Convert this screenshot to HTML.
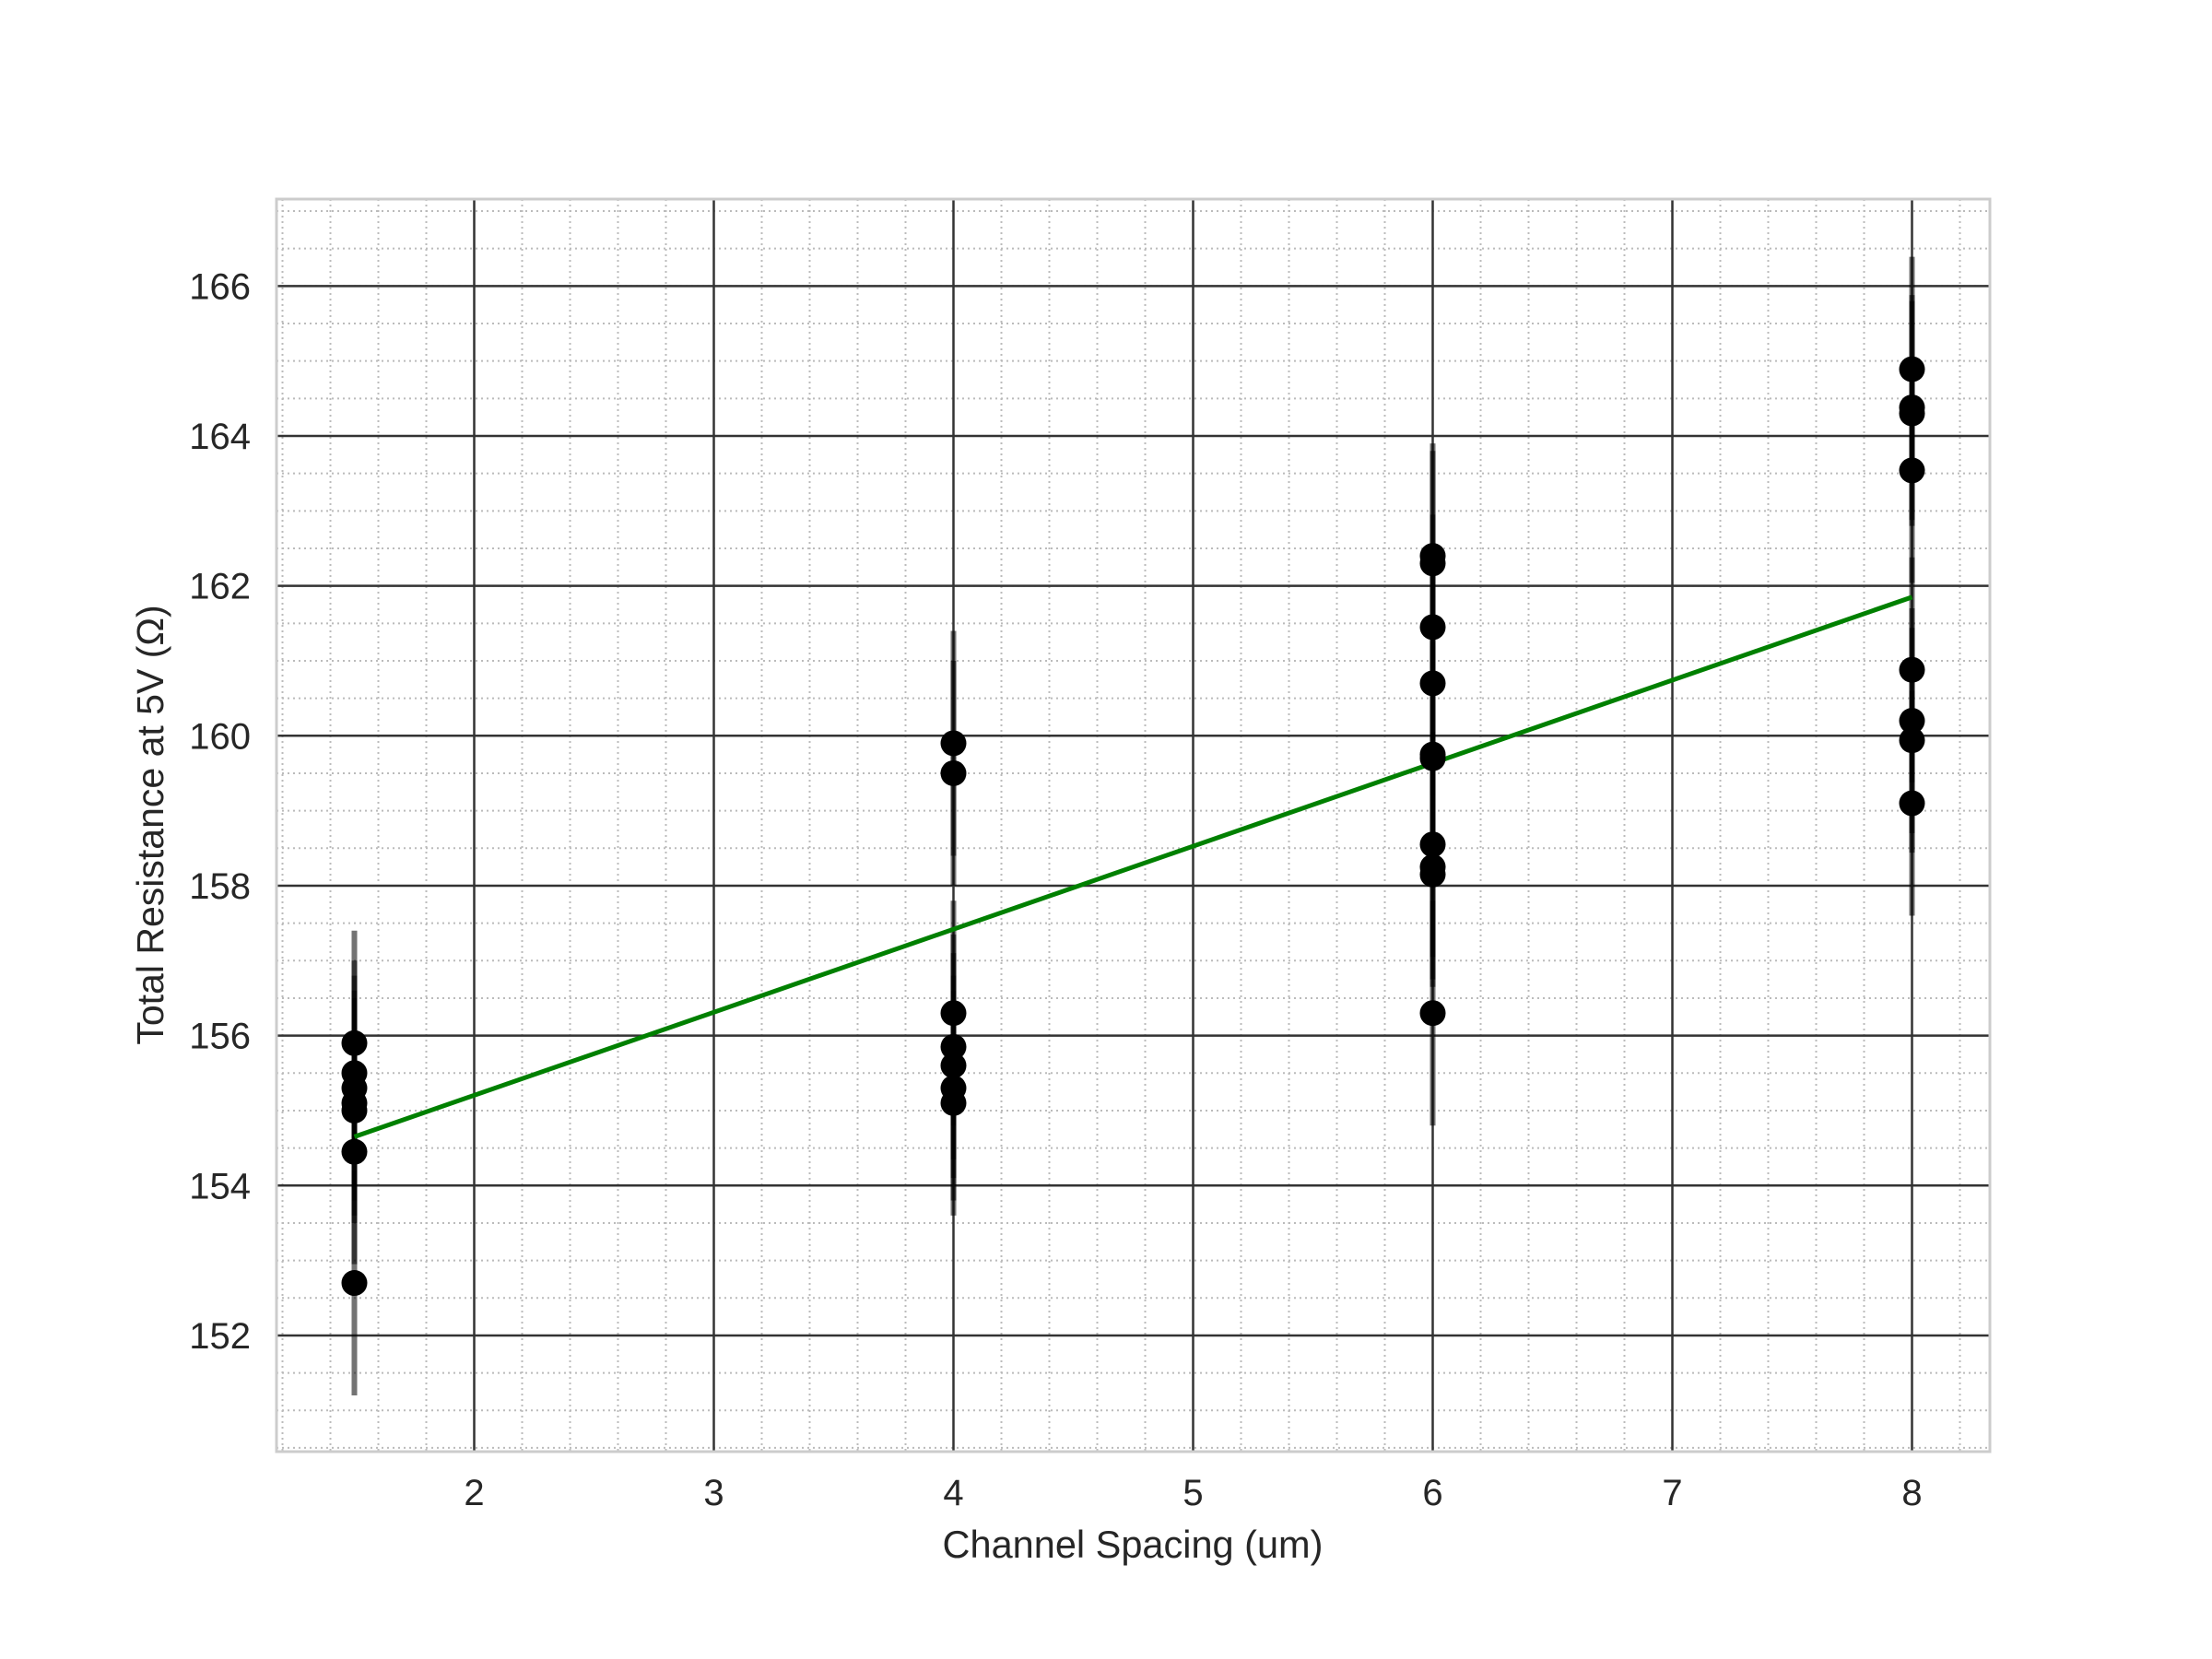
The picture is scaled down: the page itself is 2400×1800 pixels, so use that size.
<!DOCTYPE html>
<html><head><meta charset="utf-8"><style>
html,body{margin:0;padding:0;background:#fff;}
svg{display:block;font-family:"Liberation Sans",Arial,sans-serif;}
</style></head><body>
<svg id="chart" width="2400" height="1800" viewBox="0 0 2400 1800">
<g id="grid"></g>
<g id="errs"></g>
<g id="fit"></g>
<g id="pts"></g>
<rect x="300" y="216" width="1859" height="1359" fill="none" stroke="#cccccc" stroke-width="3"/>
<g id="ticks"></g>
<text x="1229" y="1690" text-anchor="middle" font-size="41.5" fill="#262626">Channel Spacing (um)</text>
<text transform="translate(177,895) rotate(-90)" text-anchor="middle" font-size="41" fill="#262626">Total Resistance at 5V (Ω)</text>
</svg>
<script>
const xGroups = [1.5, 4, 6, 8];
const yValues = [
  [155.9, 155.5, 155.3, 155.1, 155.0, 154.45, 152.7],
  [159.9, 159.5, 156.3, 155.85, 155.6, 155.3, 155.1],
  [162.4, 162.3, 161.45, 160.7, 159.75, 159.7, 158.55, 158.25, 158.15, 156.3],
  [164.89, 164.38, 164.3, 163.54, 160.88, 160.2, 159.94, 159.1]
];
const errValue = 1.5;
const fitStart = [1.5, 154.65];
const fitEnd = [8, 161.85];
const xTicks = [2, 3, 4, 5, 6, 7, 8];
const yTicks = [152, 154, 156, 158, 160, 162, 164, 166];

const X0=300, X1=2159, Y0=216, Y1=1575;
const xMin=1.175, xMax=8.325, yMin=150.45, yMax=167.16;
const sx = v => X0 + (v - xMin) / (xMax - xMin) * (X1 - X0);
const sy = v => Y1 - (v - yMin) / (yMax - yMin) * (Y1 - Y0);
const NS = 'http://www.w3.org/2000/svg';
function mk(tag, attrs, parent){const e=document.createElementNS(NS,tag);for(const k in attrs)e.setAttribute(k,attrs[k]);parent.appendChild(e);return e;}

const grid=document.getElementById('grid');
for(let v=Math.ceil(xMin*5)/5; v<=xMax+1e-9; v+=0.2){
  const l=mk('line',{x1:sx(v),x2:sx(v),y1:Y0,y2:Y1,stroke:'#bbbbbb','stroke-width':2,'stroke-dasharray':'2,4'},grid);
  
  
}
for(let v=Math.ceil(yMin*2)/2; v<=yMax+1e-9; v+=0.5){
  const l=mk('line',{x1:X0,x2:X1,y1:sy(v),y2:sy(v),stroke:'#bbbbbb','stroke-width':2,'stroke-dasharray':'2,4'},grid);
  
  
}
const ticks=document.getElementById('ticks');
xTicks.forEach(t=>{
  const l=mk('line',{x1:sx(t),x2:sx(t),y1:Y0,y2:Y1,stroke:'#333333','stroke-width':2.5},grid);
  
  
  const tx=mk('text',{x:sx(t),y:1633,'text-anchor':'middle','font-size':40,fill:'#262626'},ticks);
  tx.textContent=t;
  
  
});
yTicks.forEach(t=>{
  const l=mk('line',{x1:X0,x2:X1,y1:sy(t),y2:sy(t),stroke:'#333333','stroke-width':2.5},grid);
  
  
  const tx=mk('text',{x:272,y:sy(t)+14,'text-anchor':'end','font-size':40,fill:'#262626'},ticks);
  tx.textContent=t;
  
  
});

const errs=document.getElementById('errs'), pts=document.getElementById('pts');
xGroups.forEach((xv,gi)=>{
  yValues[gi].forEach(yv=>{
    const e=mk('line',{x1:sx(xv),x2:sx(xv),y1:sy(yv-errValue),y2:sy(yv+errValue),stroke:'rgba(0,0,0,0.55)','stroke-width':6},errs);
    
    
  });
});
xGroups.forEach((xv,gi)=>{
  yValues[gi].forEach(yv=>{
    const c=mk('circle',{cx:sx(xv),cy:sy(yv),r:14,fill:'#000'},pts);
    
    
  });
});
const fl=mk('line',{x1:sx(fitStart[0]),y1:sy(fitStart[1]),x2:sx(fitEnd[0]),y2:sy(fitEnd[1]),stroke:'#008000','stroke-width':5},document.getElementById('fit'));


</script>
</body></html>
